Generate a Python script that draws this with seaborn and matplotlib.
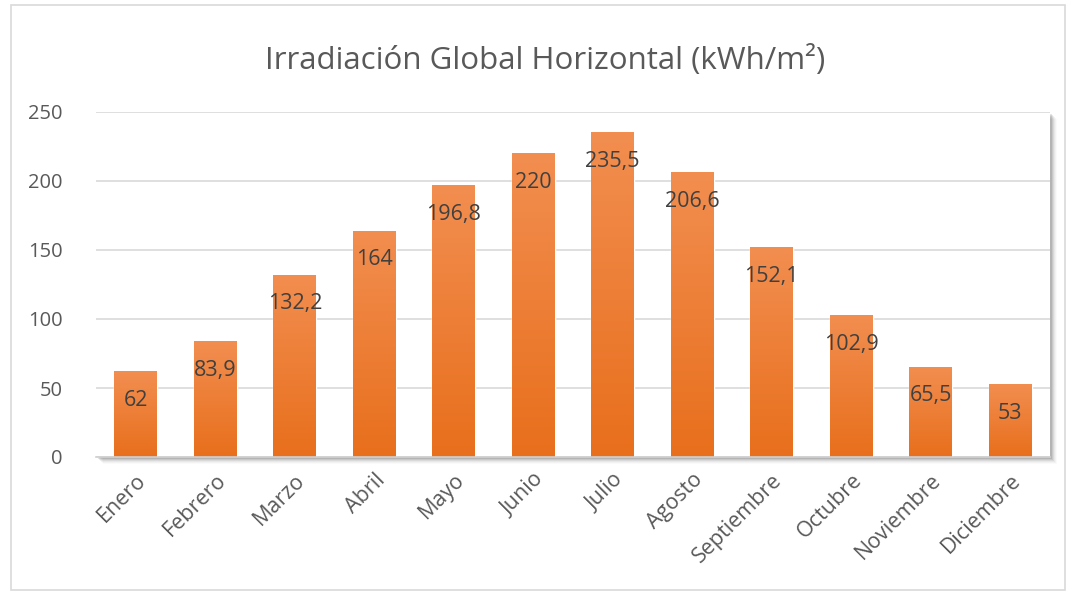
import numpy as np
import pandas as pd
import matplotlib
matplotlib.use("Agg")
import matplotlib.pyplot as plt
import seaborn as sns
from matplotlib.patches import Rectangle

MONTHS = ["Enero", "Febrero", "Marzo", "Abril", "Mayo", "Junio", "Julio",
          "Agosto", "Septiembre", "Octubre", "Noviembre", "Diciembre"]
IRRADIATION = [62, 83.9, 132.2, 164, 196.8, 220, 235.5, 206.6, 152.1, 102.9, 65.5, 53]
Y_TICKS = [0, 50, 100, 150, 200, 250]
TITLE = "Irradiación Global Horizontal (kWh/m²)"

TOP_COLOR = "#F28E50"
BOTTOM_COLOR = "#E86F1C"
TEXT_COLOR = "#404040"
TICK_COLOR = "#595959"


def fmt_value(v):
    if float(v).is_integer():
        return f"{int(v)}"
    return f"{v:.1f}".replace(".", ",")


def main():
    sns.set_theme(style="white")
    plt.rcParams["font.family"] = ["Open Sans", "DejaVu Sans"]

    df = pd.DataFrame({"Mes": MONTHS, "kWh": IRRADIATION})

    W, H = 1066, 592
    fig = plt.figure(figsize=(W / 100, H / 100), dpi=100)
    fig.patch.set_facecolor("white")

    # outer chart border
    fig.add_artist(Rectangle((11 / W, 1 - 590 / H), (1065 - 11) / W, (590 - 5) / H,
                             transform=fig.transFigure, fill=False,
                             edgecolor="#d9d9d9", linewidth=1.2))

    left, right, top, bottom = 96, 1050, 112, 457
    ax = fig.add_axes([left / W, 1 - bottom / H, (right - left) / W, (bottom - top) / H])

    # soft shadow behind the plot area
    for k, a in enumerate([0.10, 0.08, 0.06, 0.04, 0.03, 0.02]):
        off = 2 + k
        fig.add_artist(Rectangle(((left + off) / W, 1 - (bottom + off) / H),
                                 (right - left) / W, (bottom - top) / H,
                                 transform=fig.transFigure, facecolor="black",
                                 edgecolor="none", alpha=a, zorder=0.1))
    ax.set_zorder(1)
    ax.set_facecolor("white")

    sns.barplot(data=df, x="Mes", y="kWh", color=BOTTOM_COLOR, width=0.54,
                saturation=1, ax=ax, zorder=2)

    # vertical gradient inside each bar
    grad = np.linspace(0, 1, 256).reshape(-1, 1)
    cmap = matplotlib.colors.LinearSegmentedColormap.from_list("g", [BOTTOM_COLOR, TOP_COLOR])
    for p in ax.patches:
        x0, y0 = p.get_x(), p.get_y()
        w, h = p.get_width(), p.get_height()
        im = ax.imshow(grad, extent=[x0, x0 + w, y0, y0 + h], origin="lower",
                       cmap=cmap, aspect="auto", zorder=3)
        im.set_clip_path(p)

    for i, v in enumerate(IRRADIATION):
        ax.annotate(fmt_value(v), (i, v), xytext=(0, -21), textcoords="offset points",
                    ha="center", va="center", fontsize=15.5, color=TEXT_COLOR, zorder=5)

    ax.set_xlim(-0.5, len(MONTHS) - 0.5)
    ax.set_ylim(0, 250)
    ax.set_yticks(Y_TICKS)
    ax.yaxis.grid(True, color="#d9d9d9", linewidth=1.2)
    ax.set_axisbelow(True)
    for s in ["left", "right", "top"]:
        ax.spines[s].set_visible(False)
    ax.spines["bottom"].set_color("#d0d0d0")
    ax.spines["bottom"].set_linewidth(1.2)
    ax.spines["bottom"].set_zorder(4)

    ax.set_xlabel("")
    ax.set_ylabel("")
    ax.tick_params(axis="both", length=0, colors=TICK_COLOR)
    ax.tick_params(axis="y", pad=24, labelsize=14.5)
    ax.tick_params(axis="x", pad=9, labelsize=15.5)
    plt.setp(ax.get_xticklabels(), rotation=45, ha="right", rotation_mode="anchor")

    fig.text(545 / W, 1 - 60 / H, TITLE, ha="center", va="center",
             fontsize=22.5, color=TICK_COLOR)

    fig.savefig("out.png", dpi=100)
    plt.close(fig)


if __name__ == "__main__":
    main()
